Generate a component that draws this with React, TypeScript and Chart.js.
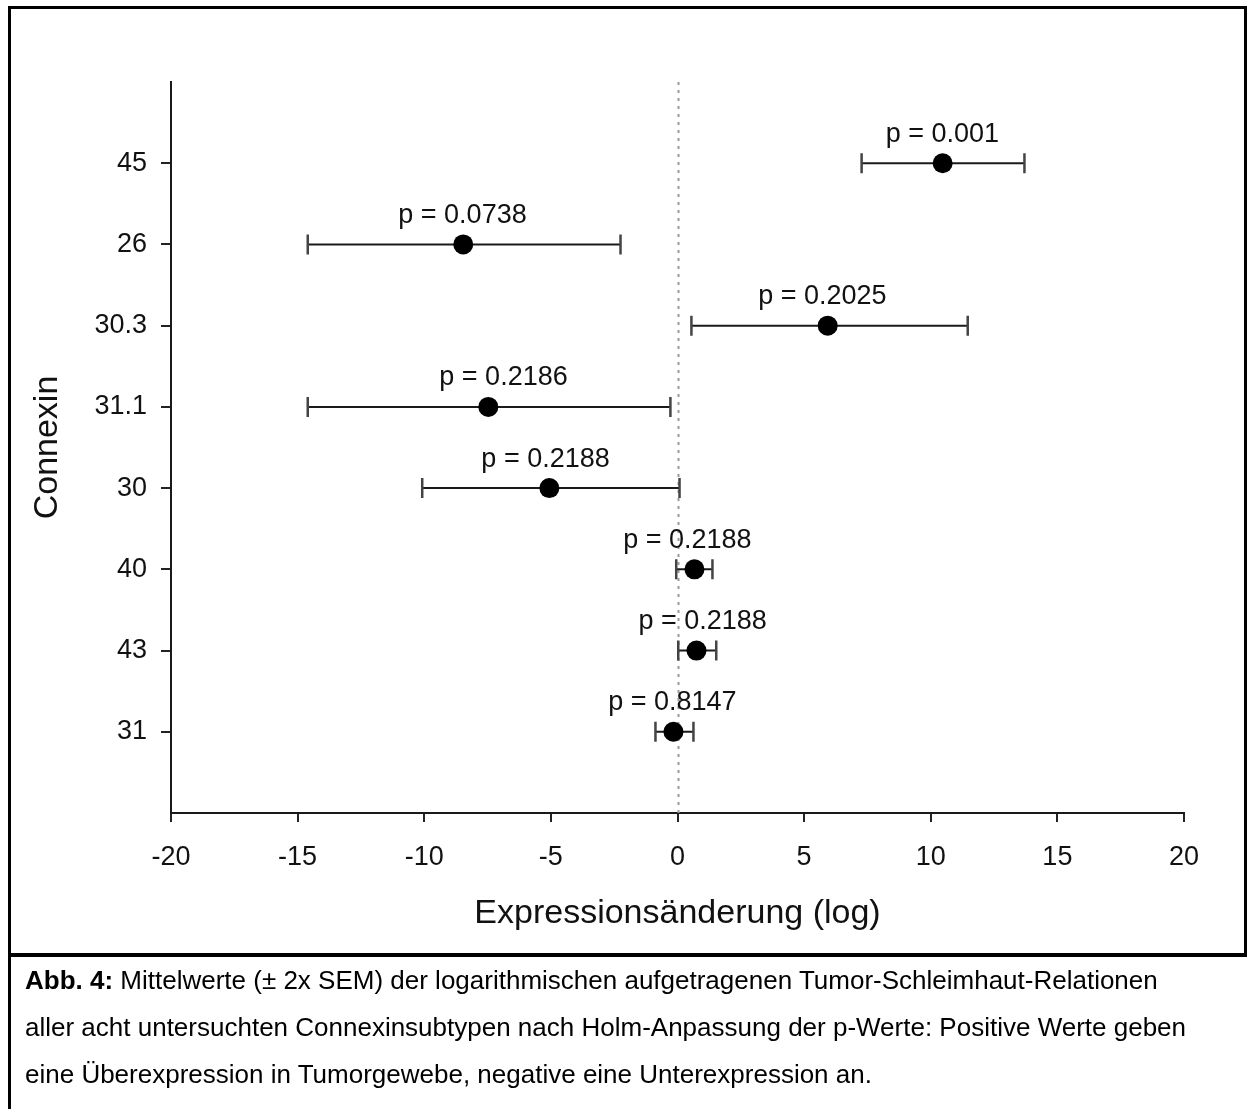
import React, { useEffect, useRef } from "react";
import { Chart, registerables } from "chart.js";

Chart.register(...registerables);

// Categories, top to bottom
const categories = ["45", "26", "30.3", "31.1", "30", "40", "43", "31"];
// Mean log expression change
const means = [10.47, -8.46, 5.93, -7.47, -5.06, 0.67, 0.75, -0.16];
// Lower / upper ends of the ± 2x SEM bars
const lowers = [7.27, -14.6, 0.55, -14.6, -10.08, -0.05, 0.03, -0.87];
const uppers = [13.7, -2.25, 11.46, -0.28, 0.08, 1.38, 1.53, 0.63];
// p-values and the x (data units) at which each label is centred
const pValues = ["0.001", "0.0738", "0.2025", "0.2186", "0.2188", "0.2188", "0.2188", "0.8147"];
const pLabelX = [10.46, -8.49, 5.72, -6.87, -5.21, 0.39, 0.99, -0.2];
// x tick range
const xMin = -20;
const xMax = 20;
const xStep = 5;

const yPos = categories.map((_, i) => categories.length - i);

const FONT = "'Liberation Sans', Arial, Helvetica, sans-serif";

const errorBarPlugin = {
  id: "errorBars",
  beforeDatasetsDraw(chart: any) {
    const { ctx, scales, chartArea } = chart;
    const xs = scales.x;
    const ys = scales.y;
    ctx.save();
    // dotted zero line
    const x0 = Math.round(xs.getPixelForValue(0)) + 0.5;
    ctx.strokeStyle = "#9a9a9a";
    ctx.lineWidth = 2;
    ctx.setLineDash([3, 5]);
    ctx.beginPath();
    ctx.moveTo(x0, chartArea.top);
    ctx.lineTo(x0, chartArea.bottom);
    ctx.stroke();
    ctx.setLineDash([]);
    // error bars
    for (let i = 0; i < means.length; i++) {
      const y = ys.getPixelForValue(yPos[i]);
      const xl = xs.getPixelForValue(lowers[i]);
      const xu = xs.getPixelForValue(uppers[i]);
      ctx.strokeStyle = "#1a1a1a";
      ctx.lineWidth = 2;
      ctx.beginPath();
      ctx.moveTo(xl, y);
      ctx.lineTo(xu, y);
      ctx.stroke();
      ctx.strokeStyle = "#444";
      ctx.lineWidth = 2.5;
      ctx.beginPath();
      ctx.moveTo(xl, y - 10);
      ctx.lineTo(xl, y + 10);
      ctx.moveTo(xu, y - 10);
      ctx.lineTo(xu, y + 10);
      ctx.stroke();
    }
    ctx.restore();
  },
  afterDatasetsDraw(chart: any) {
    const { ctx, scales, chartArea } = chart;
    const xs = scales.x;
    const ys = scales.y;
    ctx.save();
    ctx.fillStyle = "#111";
    ctx.font = `27px ${FONT}`;
    ctx.textAlign = "center";
    ctx.textBaseline = "middle";
    for (let i = 0; i < means.length; i++) {
      const y = ys.getPixelForValue(yPos[i]);
      const x = xs.getPixelForValue(pLabelX[i]);
      ctx.fillText(`p = ${pValues[i]}`, x, y - 29);
    }
    // axis titles
    ctx.font = `34px ${FONT}`;
    ctx.fillText("Expressionsänderung (log)", (chartArea.left + chartArea.right) / 2, 914);
    ctx.translate(48, (chartArea.top + chartArea.bottom) / 2);
    ctx.rotate(-Math.PI / 2);
    ctx.fillText("Connexin", 0, 0);
    ctx.restore();
  },
};

export default function App() {
  const canvasRef = useRef<HTMLCanvasElement>(null);

  useEffect(() => {
    if (!canvasRef.current) return;
    const chart = new Chart(canvasRef.current, {
      type: "scatter",
      data: {
        datasets: [
          {
            data: means.map((m, i) => ({ x: m, y: yPos[i] })),
            pointRadius: 10,
            pointBackgroundColor: "#000",
            pointBorderColor: "#000",
            pointBorderWidth: 0,
            showLine: false,
          },
        ],
      },
      options: {
        animation: false,
        responsive: false,
        layout: { padding: { left: 0, top: 82, right: 63, bottom: 0 } },
        plugins: { legend: { display: false }, tooltip: { enabled: false } },
        scales: {
          x: {
            type: "linear",
            min: xMin,
            max: xMax,
            ticks: {
              stepSize: xStep,
              font: { family: FONT, size: 27 },
              color: "#111",
              padding: 19,
              maxRotation: 0,
            },
            grid: { drawOnChartArea: false, drawTicks: true, tickLength: 9, color: "#222", lineWidth: 2 },
            border: { display: true, color: "#1a1a1a", width: 2 },
            afterFit: (s: any) => {
              s.height = 140;
              s.paddingLeft = 0;
              s.paddingRight = 0;
            },
          },
          y: {
            type: "linear",
            min: 0,
            max: 9,
            afterBuildTicks: (s: any) => {
              s.ticks = yPos.map((v) => ({ value: v }));
            },
            ticks: {
              font: { family: FONT, size: 27 },
              color: "#111",
              padding: 14,
              callback: (v: any) => {
                const i = yPos.indexOf(Number(v));
                return i >= 0 ? categories[i] : "";
              },
            },
            grid: { drawOnChartArea: false, drawTicks: true, tickLength: 10, color: "#222", lineWidth: 2 },
            border: { display: true, color: "#1a1a1a", width: 2 },
            afterFit: (s: any) => {
              s.width = 171;
              s.paddingTop = 0;
              s.paddingBottom = 0;
            },
          },
        },
      },
      plugins: [errorBarPlugin],
    });
    return () => chart.destroy();
  }, []);

  return (
    <div style={{ position: "absolute", left: 0, top: 0, width: 1247, height: 1109, background: "#fff", overflow: "hidden" }}>
      <canvas ref={canvasRef} width={1247} height={953} style={{ position: "absolute", left: 0, top: 0 }} />
      <div
        style={{
          position: "absolute",
          left: 8,
          top: 6,
          width: 1247 - 8 - 3 - 3,
          height: 953 - 6 - 3,
          borderTop: "3px solid #000",
          borderLeft: "3px solid #000",
          borderRight: "3px solid #000",
          borderBottom: "4px solid #000",
          pointerEvents: "none",
        }}
      />
      <div
        style={{
          position: "absolute",
          left: 8,
          top: 957,
          width: 1247 - 8,
          height: 1109 - 957,
          borderLeft: "3px solid #000",
          boxSizing: "border-box",
          paddingLeft: 14,
          fontFamily: FONT,
          fontSize: 26,
          lineHeight: "47px",
          color: "#000",
          whiteSpace: "nowrap",
        }}
      >
        <b>Abb. 4:</b> Mittelwerte (± 2x SEM) der logarithmischen aufgetragenen Tumor-Schleimhaut-Relationen
        <br />
        aller acht untersuchten Connexinsubtypen nach Holm-Anpassung der p-Werte: Positive Werte geben
        <br />
        eine Überexpression in Tumorgewebe, negative eine Unterexpression an.
      </div>
    </div>
  );
}
